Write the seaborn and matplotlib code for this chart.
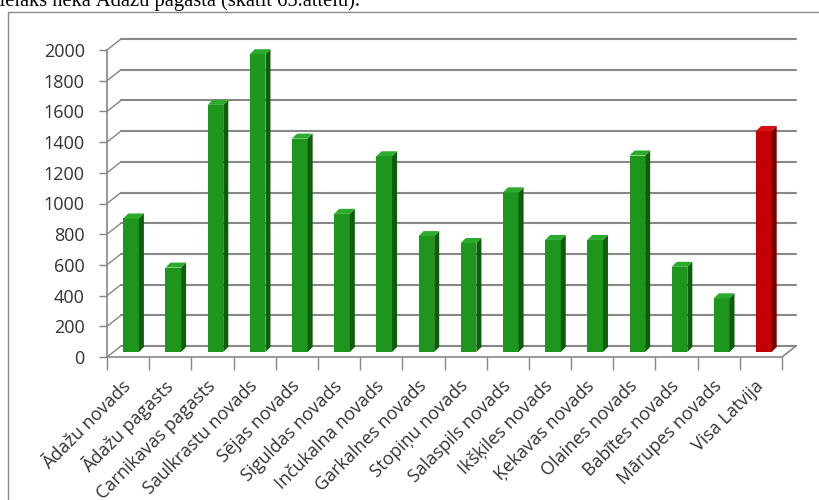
import matplotlib
matplotlib.use("Agg")
import matplotlib.pyplot as plt
import seaborn as sns
from matplotlib.patches import Polygon
from matplotlib.lines import Line2D

regions = [
    "Ādažu novads", "Ādažu pagasts", "Carnikavas pagasts", "Saulkrastu novads",
    "Sējas novads", "Siguldas novads", "Inčukalna novads", "Garkalnes novads",
    "Stopiņu novads", "Salaspils novads", "Ikšķiles novads", "Ķekavas novads",
    "Olaines novads", "Babītes novads", "Mārupes novads", "Visa Latvija",
]
values = [870, 550, 1610, 1940, 1390, 900, 1275, 755, 710, 1040, 730, 730, 1280, 555, 350, 1440]
y_ticks = list(range(0, 2001, 200))
highlight = "Visa Latvija"
above_text = "lielāks nekā Ādažu pagastā (skatīt 65.attēlu)."

W, H = 819, 500
fig = plt.figure(figsize=(W / 100, H / 100), dpi=100)
sns.set_style("white")
plt.rcParams["font.family"] = ["Open Sans", "DejaVu Sans"]

# front plane of the fake 3D chart, in pixels
left, right, y0, y1 = 107, 782, 357, 50
ax = fig.add_axes([left / W, (H - y0) / H, (right - left) / W, (y0 - y1) / H])
n = len(regions)
ax.set_xlim(-0.5, n - 0.5)
ax.set_ylim(0, 2000)
ax.set_facecolor("none")

# pixel -> data units
px_x = n / (right - left)
px_y = 2000 / (y0 - y1)
depth_x, depth_y = 14 * px_x, 11 * px_y

grid_col = "#878787"
# back wall gridlines + left connectors
for t in y_ticks:
    ax.plot([-0.5 + depth_x, n - 0.5 + depth_x], [t + depth_y, t + depth_y],
            color=grid_col, lw=1.5, clip_on=False, zorder=1)
    ax.plot([-0.5, -0.5 + depth_x], [t, t + depth_y], color=grid_col, lw=1.0,
            clip_on=False, zorder=1)
# floor edges
ax.plot([-0.5, n - 0.5], [0, 0], color=grid_col, lw=1.2, clip_on=False, zorder=2)
ax.plot([n - 0.5, n - 0.5 + depth_x], [0, depth_y], color=grid_col, lw=1.2,
        clip_on=False, zorder=2)

palette = {r: ("#c40000" if r == highlight else "#1e961e") for r in regions}
sns.barplot(x=regions, y=values, hue=regions, palette=palette, legend=False,
            width=0.37, saturation=1, ax=ax, zorder=3)

# shift bars into the middle of the depth, add side + top faces
bx, by = 3 * px_x, 5 * px_y
sx, sy = 5 * px_x, 5 * px_y
for patch, r in zip(ax.patches, regions):
    xl = patch.get_x() + bx
    w = patch.get_width()
    h = patch.get_height()
    patch.set_x(xl)
    patch.set_y(by)
    patch.set_linewidth(0)
    patch.set_clip_on(False)
    xr = xl + w
    top = h + by
    side_c = "#7a0000" if r == highlight else "#0c5e0c"
    top_c = "#d41010" if r == highlight else "#2caa2c"
    ax.add_patch(Polygon([(xr, by), (xr, top), (xr + sx, top + sy), (xr + sx, by + sy)],
                         closed=True, fc=side_c, lw=0, zorder=3, clip_on=False))
    ax.add_patch(Polygon([(xl, top), (xr, top), (xr + sx, top + sy), (xl + sx, top + sy)],
                         closed=True, fc=top_c, lw=0, zorder=3, clip_on=False))

for s in ["top", "right", "bottom"]:
    ax.spines[s].set_visible(False)
ax.spines["left"].set_color(grid_col)
ax.spines["left"].set_linewidth(1.2)

ax.set_yticks(y_ticks)
ax.set_yticklabels([str(t) for t in y_ticks])
ax.tick_params(axis="y", length=6, width=1, color=grid_col, pad=10,
               labelsize=13, labelcolor="#333333", left=True)
ax.set_xticks(range(n))
ax.set_xticklabels(regions, rotation=45, ha="right", va="center",
                   rotation_mode="anchor")
ax.set_xticks([i - 0.5 for i in range(n + 1)], minor=True)
ax.tick_params(axis="x", which="major", length=0, pad=19, labelsize=13,
               labelcolor="#333333")
ax.tick_params(axis="x", which="minor", length=9, width=1, color=grid_col,
               bottom=True)

# chart frame (extends past the image edge)
fig.add_artist(Line2D([8 / W, 1.0], [1 - 12 / H, 1 - 12 / H], color="#8a8a8a",
                      lw=1, transform=fig.transFigure))
fig.add_artist(Line2D([8 / W, 8 / W], [0, 1 - 12 / H], color="#8a8a8a",
                      lw=1, transform=fig.transFigure))

# document text line above the chart, only its lower part is visible;
# size it so it runs from just left of the edge to x=362 px
txt = fig.text(-6 / W, 1 - 6 / H, above_text, ha="left", va="baseline",
               fontsize=17, family=["Liberation Serif", "DejaVu Serif"],
               color="black")
renderer = fig.canvas.get_renderer()
width_px = txt.get_window_extent(renderer).width
txt.set_fontsize(17 * 368 / width_px)

fig.savefig("out.png", dpi=100)
